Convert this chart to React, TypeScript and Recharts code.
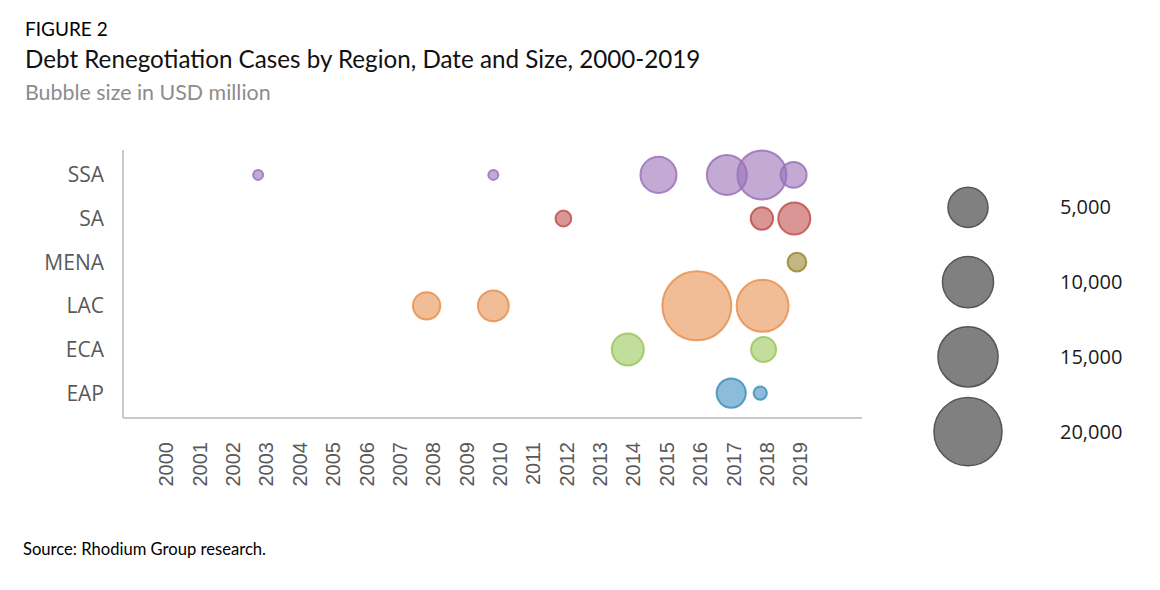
import React from 'react';
import { ScatterChart, Scatter, XAxis, YAxis, ZAxis } from 'recharts';

// regions, bottom to top
const regions = ['EAP', 'ECA', 'LAC', 'MENA', 'SA', 'SSA'];
const yearTicks = [2000, 2001, 2002, 2003, 2004, 2005, 2006, 2007, 2008, 2009, 2010, 2011, 2012, 2013, 2014, 2015, 2016, 2017, 2018, 2019];

// case dates (fractional year) and size in USD million
const ssaYears = [2002.75, 2009.8, 2014.75, 2016.8, 2017.85, 2018.8];
const ssaSizes = [400, 400, 5200, 6400, 9600, 2700];
const saYears = [2011.9, 2017.85, 2018.82];
const saSizes = [1000, 2000, 4100];
const menaYears = [2018.9];
const menaSizes = [1400];
const lacYears = [2007.8, 2009.8, 2015.9, 2017.87];
const lacSizes = [3000, 3800, 19000, 10800];
const ecaYears = [2013.83, 2017.9];
const ecaSizes = [4100, 2500];
const eapYears = [2016.93, 2017.8];
const eapSizes = [3400, 700];

const legendSizes = [5000, 10000, 15000, 20000];

const toPoints = (region: string, years: number[], sizes: number[]) =>
    years.map((year, i) => ({ x: year, y: regions.indexOf(region) + 1, z: sizes[i] }));

const series = [
    { name: 'SSA', data: toPoints('SSA', ssaYears, ssaSizes), color: '#9a72b8' },
    { name: 'SA', data: toPoints('SA', saYears, saSizes), color: '#c0504d' },
    { name: 'MENA', data: toPoints('MENA', menaYears, menaSizes), color: '#9c8530' },
    { name: 'LAC', data: toPoints('LAC', lacYears, lacSizes), color: '#e89150' },
    { name: 'ECA', data: toPoints('ECA', ecaYears, ecaSizes), color: '#9bc75a' },
    { name: 'EAP', data: toPoints('EAP', eapYears, eapSizes), color: '#3f8fbe' },
];

const legendData = legendSizes.map((v, i) => ({ x: 0.5, y: i, z: v }));

const YearTick = (props: any) => {
    const { x, y, payload } = props;
    const ty = y + 16;
    return (
        <text
            x={x}
            y={ty}
            transform={`rotate(-90, ${x}, ${ty})`}
            textAnchor="end"
            dy="0.35em"
            fontFamily="'Liberation Sans', Arial, sans-serif"
            fontSize={20}
            fill="#595959"
        >
            {payload.value}
        </text>
    );
};

const headerFont = "Lato, 'Open Sans', sans-serif";

export default function App() {
    return (
        <div style={{ position: 'absolute', left: 0, top: 0, width: 1160, height: 590, background: '#fff' }}>
            <svg width={1160} height={590} style={{ position: 'absolute', left: 0, top: 0 }}>
                <text x={25} y={36} fontFamily={headerFont} fontSize={19} fill="#000">FIGURE 2</text>
                <text x={25} y={68} fontFamily={headerFont} fontSize={24.2} fill="#111">
                    Debt Renegotiation Cases by Region, Date and Size, 2000-2019
                </text>
                <text x={25} y={100} fontFamily={headerFont} fontSize={21.4} fill="#8c8c8c">Bubble size in USD million</text>
                <text x={23} y={555} fontFamily={headerFont} fontSize={16.6} fill="#000">Source: Rhodium Group research.</text>
            </svg>

            <div style={{ position: 'absolute', left: 0, top: 0 }}>
                <ScatterChart width={1160} height={590} margin={{ top: 150, right: 298, bottom: 92, left: 23 }}>
                    <XAxis
                        type="number"
                        dataKey="x"
                        domain={[1998.7, 2020.85]}
                        ticks={yearTicks}
                        interval={0}
                        height={80}
                        tick={<YearTick />}
                        tickLine={false}
                        axisLine={{ stroke: '#c9c9c9', strokeWidth: 2 }}
                    />
                    <YAxis
                        type="number"
                        dataKey="y"
                        domain={[0.43, 6.57]}
                        ticks={[1, 2, 3, 4, 5, 6]}
                        interval={0}
                        width={100}
                        tickFormatter={(v: number) => regions[v - 1]}
                        tick={{ fontFamily: "'Open Sans', sans-serif", fontSize: 21, fill: '#595959' }}
                        tickLine={false}
                        tickMargin={13}
                        axisLine={{ stroke: '#c9c9c9', strokeWidth: 2 }}
                    />
                    <ZAxis type="number" dataKey="z" domain={[0, 25000]} range={[0, 4909]} />
                    {series.map((s) => (
                        <Scatter
                            key={s.name}
                            name={s.name}
                            data={s.data}
                            fill={s.color}
                            fillOpacity={0.6}
                            stroke={s.color}
                            strokeOpacity={0.85}
                            strokeWidth={2}
                            isAnimationActive={false}
                        />
                    ))}
                </ScatterChart>
            </div>

            <div style={{ position: 'absolute', left: 928, top: 170 }}>
                <ScatterChart width={200} height={299} margin={{ top: 0, right: 0, bottom: 0, left: 0 }}>
                    <XAxis type="number" dataKey="x" domain={[0, 1]} hide />
                    <YAxis
                        type="number"
                        dataKey="y"
                        orientation="right"
                        domain={[-0.5, 3.5]}
                        reversed
                        ticks={[0, 1, 2, 3]}
                        interval={0}
                        width={120}
                        tickFormatter={(v: number) => legendSizes[v].toLocaleString('en-US')}
                        tick={{ fontFamily: "'Open Sans', sans-serif", fontSize: 20, fill: '#1a1a1a', textAnchor: 'start' }}
                        tickLine={false}
                        axisLine={false}
                        tickMargin={46}
                    />
                    <ZAxis type="number" dataKey="z" domain={[5000, 20000]} range={[1257, 3632]} />
                    <Scatter
                        data={legendData}
                        fill="#808080"
                        stroke="#555555"
                        strokeWidth={1.5}
                        isAnimationActive={false}
                    />
                </ScatterChart>
            </div>
        </div>
    );
}
